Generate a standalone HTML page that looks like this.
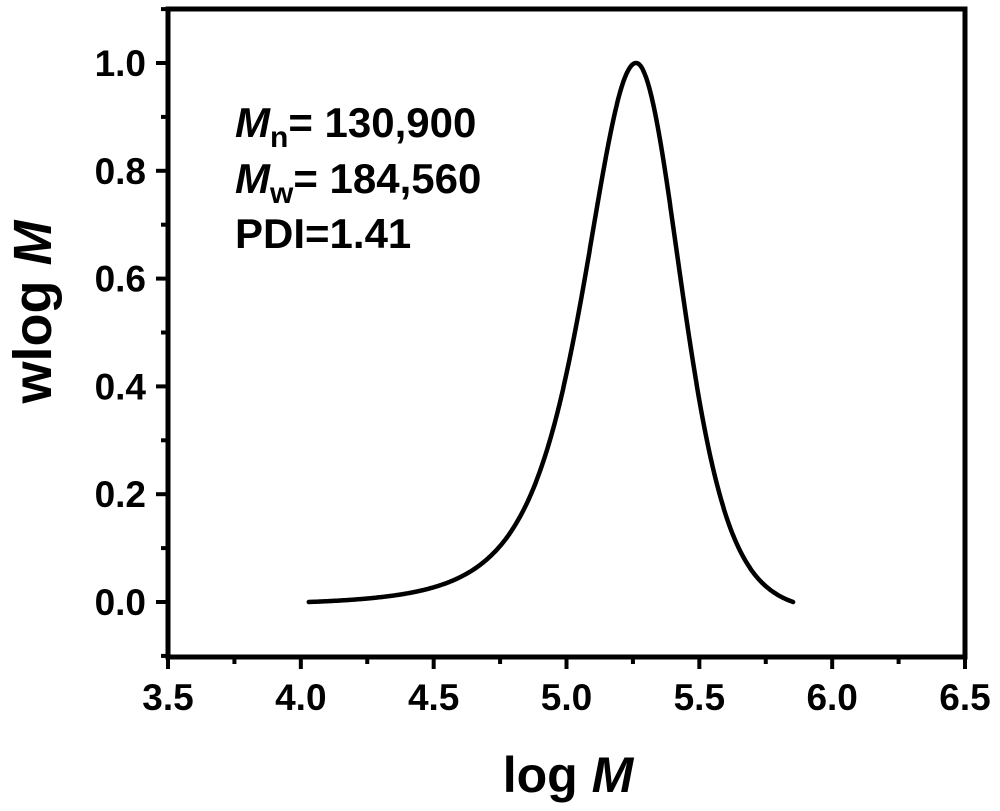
<!DOCTYPE html>
<html><head><style>
body{margin:0;background:#fff}
svg{display:block}
text{font-family:"Liberation Sans",Arial,sans-serif;font-weight:bold;fill:#000}
</style></head><body>
<svg id="s" width="1000" height="811" viewBox="0 0 1000 811">
<rect x="168" y="9" width="797" height="648" fill="none" stroke="#000" stroke-width="5"/>
<g id="ticks" stroke="#000" stroke-width="4"></g>
<g id="labels" font-size="37"></g>
<path id="curve" fill="none" stroke="#000" stroke-width="4.5" stroke-linecap="round" stroke-linejoin="round"/>
<text x="235" y="137" font-size="42"><tspan font-style="italic">M</tspan><tspan font-size="30" dy="10">n</tspan><tspan dy="-10">= 130,900</tspan></text>
<text x="235" y="193" font-size="42"><tspan font-style="italic">M</tspan><tspan font-size="30" dy="10">w</tspan><tspan dy="-10">= 184,560</tspan></text>
<text x="235" y="248" font-size="42">PDI=1.41</text>
<text x="568" y="792" font-size="50" text-anchor="middle">log <tspan font-style="italic">M</tspan></text>
<text transform="translate(51,312) rotate(-90)" font-size="54" text-anchor="middle">wlog <tspan font-style="italic">M</tspan></text>
</svg>
<script>
var X=function(v){return 168+(v-3.5)*265.67},Y=function(v){return 602-v*539};
var t='',l='';
for(var v=3.5;v<=6.501;v+=0.25){var x=X(v),maj=Math.abs(v*2-Math.round(v*2))<1e-6;
t+='<line x1="'+x+'" y1="657" x2="'+x+'" y2="'+(657+(maj?12:7))+'"/>';
if(maj)l+='<text x="'+x+'" y="710" text-anchor="middle">'+v.toFixed(1)+'</text>';}
for(var i=-1;i<=11;i++){var v=i/10,y=Y(v),maj=i>=0&&i%2==0;
t+='<line x1="168" y1="'+y+'" x2="'+(168-(maj?12:7))+'" y2="'+y+'"/>';
if(maj)l+='<text x="146" y="'+(y+13)+'" text-anchor="end">'+v.toFixed(1)+'</text>';}
document.getElementById('ticks').innerHTML=t;document.getElementById('labels').innerHTML=l;
var c=5.262;
function L(x){var u=(x-c)/0.36;return Math.pow(1+u*u,-2);}
function R(x){var u=(x-c)/0.46;return Math.pow(1+u*u,-4);}
var l0=L(4.03),r0=R(5.853),d='';
for(var x=4.03;x<=5.8531;x+=0.003){var f=x<c?(L(x)-l0)/(1-l0):(R(x)-r0)/(1-r0);
d+=(d?'L':'M')+X(x).toFixed(1)+' '+Y(f).toFixed(1);}
d+='L'+X(5.853).toFixed(1)+' '+Y(0);
document.getElementById('curve').setAttribute('d',d);
</script>
</body></html>
